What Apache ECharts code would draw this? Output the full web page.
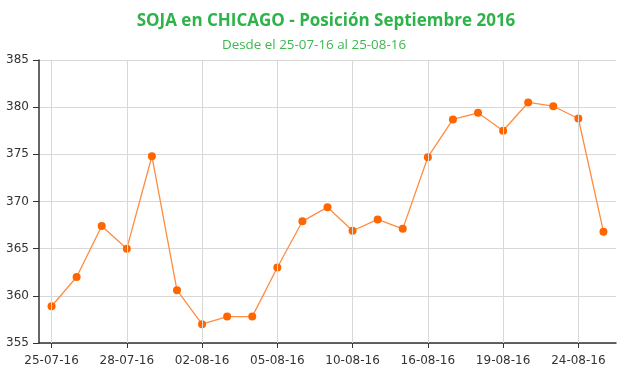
<!DOCTYPE html>
<html>
<head>
<meta charset="utf-8">
<script src="https://cdn.jsdelivr.net/npm/echarts@6/dist/echarts.min.js"></script>
<style>html,body{margin:0;padding:0;background:#fff}#c{width:620px;height:375px}</style>
</head>
<body>
<div id="c"></div>
<script>
const categories = ['25-07-16','26-07-16','27-07-16','28-07-16','29-07-16','01-08-16','02-08-16','03-08-16','04-08-16','05-08-16','08-08-16','09-08-16','10-08-16','11-08-16','12-08-16','16-08-16','17-08-16','18-08-16','19-08-16','22-08-16','23-08-16','24-08-16','25-08-16'];
const prices = [358.9,362.0,367.4,365.0,374.8,360.6,357.0,357.8,357.8,363.0,367.9,369.4,366.9,368.1,367.1,374.7,378.7,379.4,377.5,380.5,380.1,378.8,366.8];
const tickLabels = ['25-07-16','28-07-16','02-08-16','05-08-16','10-08-16','16-08-16','19-08-16','24-08-16'];
const titleText = 'SOJA en CHICAGO - Posición Septiembre 2016';
const subtitleText = 'Desde el 25-07-16 al 25-08-16';

const chart = echarts.init(document.getElementById('c'));
chart.setOption({
  animation: false,
  title: [{
    text: titleText,
    left: 321, textAlign: 'center', top: 8,
    textStyle: {color: '#2db34a', fontFamily: 'Open Sans', fontWeight: 'bold', fontSize: 17}
  }, {
    text: subtitleText,
    left: 309, textAlign: 'center', top: 34,
    textStyle: {color: '#3cb84f', fontFamily: 'Open Sans', fontWeight: 'normal', fontSize: 13.4}
  }],
  grid: {left: 39, right: 4, top: 60, bottom: 32},
  xAxis: {
    type: 'category', data: categories, boundaryGap: true,
    axisLine: {lineStyle: {color: '#333', width: 1.5}},
    axisTick: {show: true, interval: 2, alignWithLabel: true, length: 5, lineStyle: {color: '#333'}},
    axisLabel: {interval: 2, color: '#333', fontFamily: 'DejaVu Sans', fontSize: 12, margin: 12},
    splitLine: {show: false}
  },
  yAxis: {
    type: 'value', min: 355, max: 385, interval: 5,
    axisLine: {show: true, lineStyle: {color: '#333', width: 1.5}},
    axisTick: {show: true, length: 6, lineStyle: {color: '#333'}},
    axisLabel: {color: '#333', fontFamily: 'DejaVu Sans', fontSize: 12, margin: 10},
    splitLine: {lineStyle: {color: '#d8d8d8'}}
  },
  series: [{
    type: 'line', data: [], z: 1, silent: true,
    markLine: {
      silent: true, symbol: 'none', label: {show: false},
      lineStyle: {color: '#d8d8d8', type: 'solid', width: 1},
      emphasis: {disabled: true},
      data: tickLabels.map(t => ({xAxis: t}))
    }
  }, {
    type: 'line', data: prices, z: 3,
    symbol: 'circle', symbolSize: 8,
    itemStyle: {color: '#ff6600'},
    lineStyle: {color: '#ff8c40', width: 1.3}
  }]
});
</script>
</body>
</html>
